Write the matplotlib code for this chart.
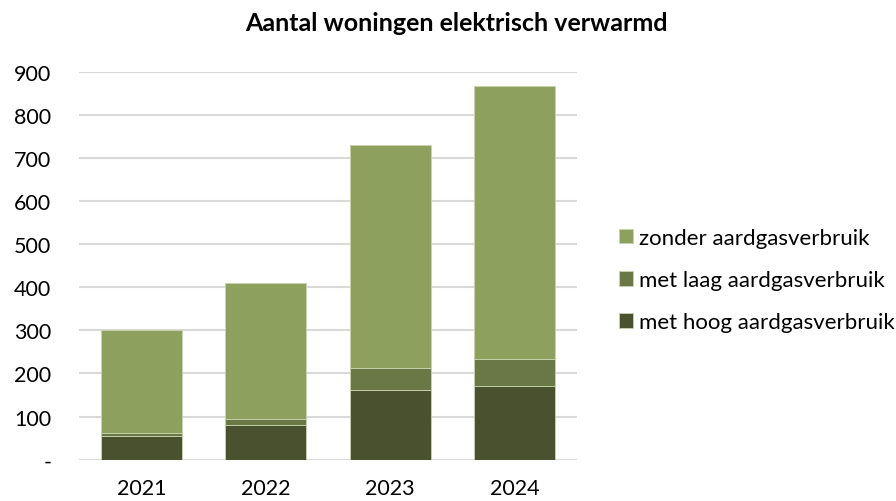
import numpy as np
import matplotlib.pyplot as plt

# data
years = ["2021", "2022", "2023", "2024"]
hoog = [56, 80, 161, 171]
laag = [7, 15, 52, 63]
zonder = [238, 315, 516, 632]
series_names = ["met hoog aardgasverbruik", "met laag aardgasverbruik", "zonder aardgasverbruik"]
yticks = [0, 100, 200, 300, 400, 500, 600, 700, 800, 900]
ytick_labels = ["-", "100", "200", "300", "400", "500", "600", "700", "800", "900"]

colors = ["#4A512F", "#6A7846", "#8DA05E"]

plt.rcParams['font.family'] = ['Lato', 'DejaVu Sans']


def main():
    fig = plt.figure(figsize=(8.96, 5.02), dpi=100)
    ax = fig.add_axes([0.0882, 0.0823, 0.5558, 0.7727])

    x = np.arange(len(years))
    bottom = np.zeros(len(years))
    handles = []
    for vals, name, col in zip([hoog, laag, zonder], series_names, colors):
        b = ax.bar(x, vals, 0.65, bottom=bottom, color=col, label=name,
                   edgecolor="#C9D3AE", linewidth=0.6, zorder=3)
        bottom += np.array(vals)
        handles.append(b)

    ax.set_xlim(-0.5, len(years) - 0.5)
    ax.set_ylim(0, 900)
    ax.set_yticks(yticks)
    ax.set_yticklabels(ytick_labels)
    ax.set_xticks(x)
    ax.set_xticklabels(years)
    ax.tick_params(axis="y", length=0, pad=20, labelsize=15.5, colors="#000000")
    ax.tick_params(axis="x", length=0, pad=13, labelsize=15.5, colors="#000000")
    ax.grid(axis="y", color="#D9D9D9", linewidth=1.5, zorder=0)
    for s in ax.spines.values():
        s.set_visible(False)

    fig.text(0.509, 0.953, "Aantal woningen elektrisch verwarmd", ha="center", va="center",
             fontsize=18, fontweight="bold")

    fig.legend(handles[::-1], series_names[::-1], loc="center left",
               bbox_to_anchor=(0.691, 0.440), frameon=False, fontsize=16,
               borderpad=0, borderaxespad=0,
               handlelength=0.63, handleheight=0.63, handletextpad=0.25,
               labelspacing=1.0)

    fig.savefig("out.png", dpi=100)


if __name__ == "__main__":
    main()
